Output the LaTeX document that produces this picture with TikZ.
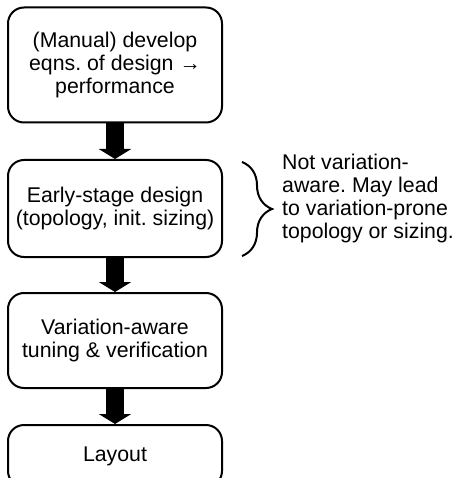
\documentclass[tikz,border=0pt]{standalone}
\usepackage{fontspec}
\setmainfont{Liberation Sans}
\usetikzlibrary{arrows.meta,decorations.pathreplacing}

\tikzset{
  stepbox/.style={draw, line width=2pt, rounded corners=16pt, minimum width=214pt,
    align=center, inner sep=2pt, font=\fontsize{21.3}{23}\selectfont},
  flowarrow/.style={line width=18pt, -{Triangle[width=32pt,length=10pt]}},
  notetext/.style={anchor=west, align=left, inner sep=0pt, font=\fontsize{21.3}{22.7}\selectfont}
}

\begin{document}
\frenchspacing
\begin{tikzpicture}[x=1pt,y=1pt,yscale=-1]
\useasboundingbox (0,0) rectangle (456,478);
\clip (0,0) rectangle (456,478);

% Boxes
\node [stepbox, minimum height=115pt] (manual) at (115,65) {(Manual) develop\\eqns. of design \char"2192\\performance};
\node [stepbox, minimum height=97pt] (early) at (115,208.5) {Early-stage design\\(topology, init. sizing)};
\node [stepbox, minimum height=95pt] (tuning) at (115,340.5) {Variation-aware\\tuning \& verification};
\node [stepbox, minimum height=62pt] (layout) at (115,456) {Layout};

% Arrows
\draw [flowarrow] (manual.south) -- (early.north);
\draw [flowarrow] (early.south) -- (tuning.north);
\draw [flowarrow] (tuning.south) -- (layout.north);

% Brace and note
\coordinate (bracetop) at (242,162);
\coordinate (bracebot) at (242,256);
\draw [line width=2pt, decorate, decoration={brace, amplitude=30pt}] (bracetop) -- (bracebot);
\node [notetext] (note) at (282,198.5) {Not variation-\\aware. May lead\\to variation-prone\\topology or sizing.};

\end{tikzpicture}
\end{document}
